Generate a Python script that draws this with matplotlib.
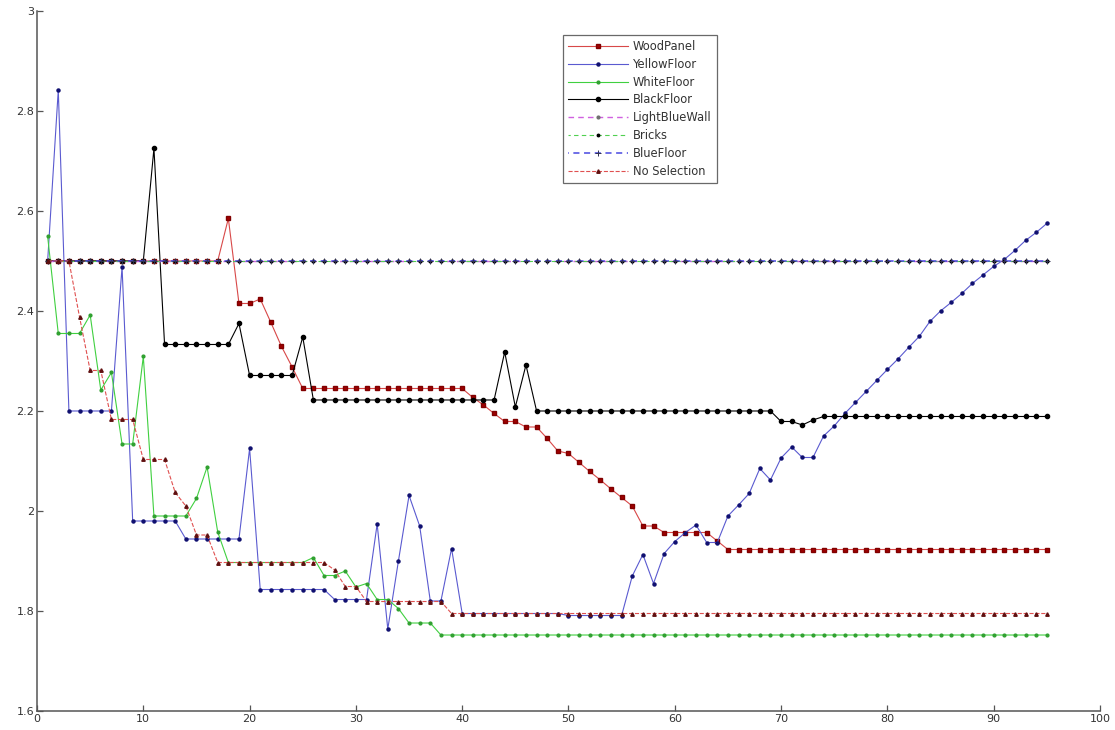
import numpy as np
import matplotlib
matplotlib.use("Agg")
import matplotlib.pyplot as plt

# frame index on the x axis
frames = np.arange(1, 96)

wood_panel = ([2.5] * 17 + [2.585]
              + [2.415, 2.415, 2.424, 2.377, 2.329, 2.288]
              + [2.245] * 16
              + [2.227, 2.212, 2.195, 2.179, 2.179, 2.168, 2.168, 2.145, 2.12, 2.115,
                 2.097, 2.079, 2.062, 2.044, 2.027, 2.01, 1.97, 1.97, 1.957, 1.957,
                 1.957, 1.957, 1.957, 1.94]
              + [1.923] * 31)

yellow_floor = ([2.5, 2.842] + [2.2] * 5 + [2.488] + [1.98] * 5 + [1.944] * 6
                + [2.125] + [1.843] * 7 + [1.823] * 4
                + [1.974, 1.764, 1.9, 2.031, 1.97, 1.82, 1.82, 1.925]
                + [1.795] * 10 + [1.791] * 6
                + [1.87, 1.913, 1.855, 1.915, 1.939, 1.957, 1.972, 1.937, 1.937, 1.99,
                   2.012, 2.035, 2.085, 2.062, 2.106, 2.128, 2.107, 2.107, 2.15, 2.17,
                   2.195, 2.217, 2.239, 2.261, 2.283, 2.304, 2.327, 2.349, 2.379, 2.4,
                   2.417, 2.435, 2.455, 2.472, 2.489, 2.503, 2.521, 2.541, 2.557, 2.575])

white_floor = ([2.549] + [2.355] * 3 + [2.392, 2.242, 2.277, 2.134, 2.134, 2.309]
               + [1.99] * 4 + [2.025, 2.088, 1.958] + [1.897] * 8
               + [1.907, 1.871, 1.871, 1.88, 1.848, 1.855, 1.823, 1.823, 1.805]
               + [1.776] * 3 + [1.752] * 58)

black_floor = ([2.5] * 10 + [2.725] + [2.333] * 7 + [2.375] + [2.271] * 5 + [2.348]
               + [2.222] * 18 + [2.318, 2.208, 2.292] + [2.2] * 23
               + [2.179, 2.179, 2.172, 2.182] + [2.189] * 22)

light_blue_wall = [2.5] * 95
bricks = [2.5] * 95
blue_floor = [2.5] * 95

no_selection = ([2.5] * 3 + [2.388, 2.281, 2.281] + [2.183] * 3 + [2.103] * 3
                + [2.037, 2.01, 1.952, 1.952] + [1.897] * 11
                + [1.882, 1.849, 1.849] + [1.819] * 8 + [1.795] * 57)

fig = plt.figure(figsize=(11.15, 7.3), dpi=100)
ax = fig.add_axes([0.0332, 0.026, 0.9533, 0.959])

lw = 0.8
ms = 3
ax.plot(frames, wood_panel, '-', color='#d84848', lw=lw, marker='s', ms=ms,
        mfc='#a00000', mec='#800000', label='WoodPanel')
ax.plot(frames, yellow_floor, '-', color='#5a5ad0', lw=lw, marker='o', ms=2.2,
        mfc='#101070', mec='#101070', label='YellowFloor')
ax.plot(frames, white_floor, '-', color='#40d040', lw=lw, marker='o', ms=2,
        mfc='#30a030', mec='#30a030', label='WhiteFloor')
ax.plot(frames, black_floor, '-', color='black', lw=lw, marker='o', ms=3,
        mfc='black', mec='black', label='BlackFloor')
ax.plot(frames, light_blue_wall, color='#d060e0', lw=1.0, ls=(0, (4, 3)),
        marker='o', ms=2, mfc='#707070', mec='#707070', label='LightBlueWall')
ax.plot(frames, bricks, color='#50d050', lw=lw, ls=(2, (4, 3)), marker='o', ms=1.8,
        mfc='black', mec='black', label='Bricks')
ax.plot(frames, blue_floor, color='#4848e0', lw=1.1, ls=(3.5, (4, 3)), marker='+',
        ms=4, mew=0.7, mec='#303050', label='BlueFloor')
ax.plot(frames, no_selection, '--', color='#e05050', lw=lw, marker='^', ms=2.5,
        mfc='#601010', mec='#601010', label='No Selection')

ax.set_xlim(0, 100)
ax.set_ylim(1.6, 3.0)
ax.set_xticks(np.arange(0, 101, 10))
ax.set_yticks([1.6, 1.8, 2.0, 2.2, 2.4, 2.6, 2.8, 3.0])
ax.set_yticklabels(['1.6', '1.8', '2', '2.2', '2.4', '2.6', '2.8', '3'])

for side in ['top', 'right']:
    ax.spines[side].set_visible(False)
for side in ['left', 'bottom']:
    ax.spines[side].set_color('#555555')
    ax.spines[side].set_linewidth(1.1)
ax.tick_params(direction='in', length=4, width=0.9, color='#555555',
               labelsize=8, labelcolor='#333333', pad=2)

leg = ax.legend(loc='upper left', bbox_to_anchor=(0.495, 0.966), fontsize=8.3,
                frameon=True, fancybox=False, edgecolor='#444444',
                handlelength=5.2, labelspacing=0.42, borderpad=0.45,
                handletextpad=0.4, borderaxespad=0)
leg.get_frame().set_linewidth(0.9)
for t in leg.get_texts():
    t.set_color('#333333')

fig.savefig('out.png', dpi=100)
